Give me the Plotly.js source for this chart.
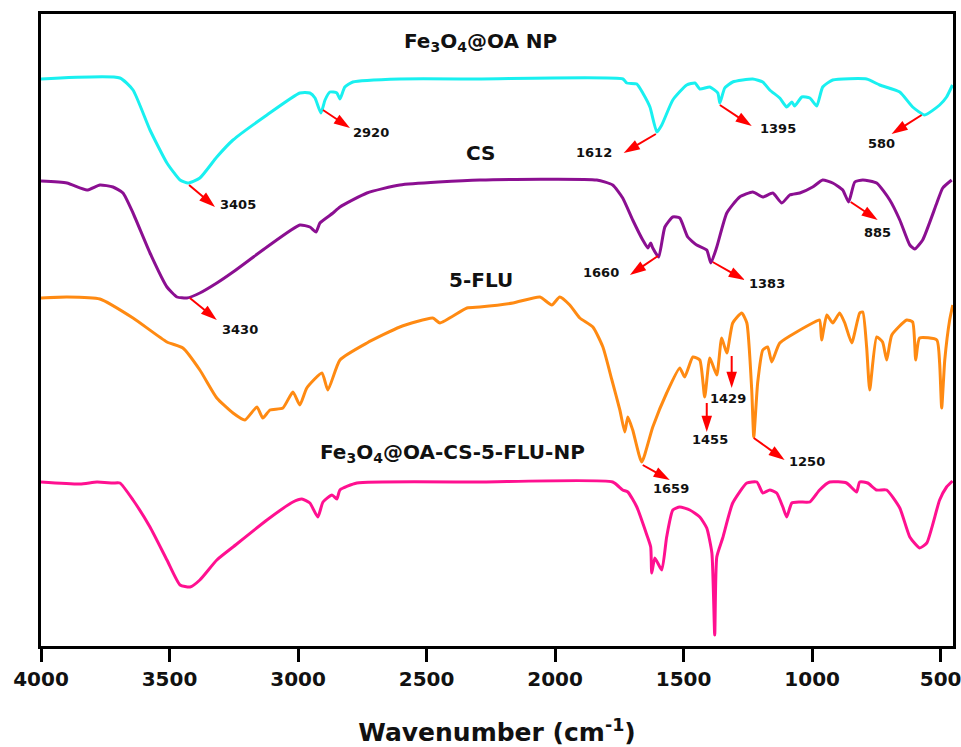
<!DOCTYPE html>
<html>
<head>
<meta charset="utf-8">
<script src="https://cdn.plot.ly/plotly-3.0.1.min.js"></script>
<style>html,body{margin:0;padding:0;background:#fff}#chart{width:961px;height:747px}</style>
</head>
<body>
<div id="chart"></div>
<script>
// ---- Data (wavenumber in cm^-1, transmittance in offset arbitrary units) ----
const oaWn = [4000,3693,3642,3576,3510,3459,3428,3382,3316,3253,3121,2993,2954,2934,2911,2895,2876,2849,2837,2818,2787,2604,2293,1736,1721,1682,1659,1631,1604,1585,1542,1488,1456,1437,1398,1367,1359,1340,1309,1231,1192,1165,1126,1099,1079,1068,1040,1009,982,959,920,788,737,659,609,562,504,477,454];
const oaT  = [567,568,556,516,483,466,463,468,489,506,531,553,553,548,533,546,554,553,547,559,564,567,567,567,563,562,553,539,514,521,546,561,563,557,559,553,543,558,564,567,564,556,548,539,544,540,549,548,540,559,566,567,561,554,539,531,541,549,561];

const csWn = [4000,3899,3821,3771,3720,3681,3642,3576,3510,3471,3432,3382,3316,3253,3121,2993,2954,2930,2915,2864,2837,2732,2604,2293,1838,1776,1737,1698,1659,1639,1628,1620,1597,1573,1542,1515,1484,1449,1410,1394,1371,1332,1282,1231,1192,1153,1118,1087,1048,998,959,920,881,858,834,803,749,698,659,620,601,570,515,492,457];
const csT  = [465,463,456,461,459,453,433,393,359,349,348,353,363,374,399,421,419,414,423,433,439,453,461,466,466,461,448,426,406,398,403,398,389,419,429,428,409,401,396,383,399,433,449,454,449,453,443,451,453,459,466,463,456,444,464,466,463,446,426,401,397,406,443,458,466];

const fluWn = [4000,3899,3771,3642,3510,3448,3382,3316,3253,3207,3160,3137,3109,3059,3020,2993,2966,2907,2884,2837,2732,2604,2476,2448,2343,2293,2164,2059,2013,1982,1943,1904,1853,1814,1779,1748,1729,1717,1698,1663,1620,1566,1515,1496,1464,1437,1418,1398,1371,1352,1332,1309,1274,1254,1235,1227,1212,1192,1173,1157,1126,998,971,963,943,920,893,873,846,815,803,788,776,749,726,710,690,632,609,597,582,515,504,496,484,465,453];
const fluT  = [348,349,347,328,304,298,276,248,233,226,239,228,236,238,254,241,258,273,256,286,303,319,328,323,338,339,343,349,341,349,341,328,319,299,266,236,214,229,216,184,219,253,278,269,289,286,249,288,271,308,293,323,333,323,256,209,263,296,299,284,303,323,326,306,331,323,333,323,303,333,334,299,256,309,304,286,311,326,324,286,308,306,283,238,286,326,341];

const npWn = [4000,3848,3782,3720,3693,3642,3576,3510,3459,3420,3382,3316,3253,3121,3020,2985,2954,2923,2903,2868,2849,2837,2771,2293,1776,1737,1717,1682,1643,1628,1624,1612,1585,1566,1542,1515,1476,1437,1410,1390,1379,1371,1348,1309,1254,1215,1192,1165,1138,1114,1099,1079,1048,1009,971,932,866,827,815,784,749,710,659,620,582,554,504,477,454];
const npT  = [164,162,164,163,163,146,119,86,61,59,66,86,99,126,144,147,143,129,144,151,147,156,163,164,164,156,154,139,111,99,73,88,76,109,136,139,136,129,118,93,11,89,108,143,163,164,153,156,153,139,129,143,144,144,156,164,163,154,164,163,156,156,138,109,98,103,146,159,165];

const seriesNames = ["Fe<sub>3</sub>O<sub>4</sub>@OA NP", "CS", "5-FLU", "Fe<sub>3</sub>O<sub>4</sub>@OA-CS-5-FLU-NP"];
const seriesColors = ["#19f0f0", "#8b0f91", "#ff8a12", "#ff1090"];
const tickVals = [4000,3500,3000,2500,2000,1500,1000,500];

// Peak labels: [label, tail wn, tail T, head wn, head T, text wn, text T]
const peakLabels = [
  ["2920", 2903,536, 2798,518, 2717,514],
  ["3405", 3424,461, 3323,439, 3234,442],
  ["1612", 1608,512, 1733,493, 1849,494],
  ["1395", 1359,541, 1235,520, 1134,518],
  ["580",  574,531,  691,512,  729,503],
  ["3430", 3421,348, 3316,326, 3226,317],
  ["1660", 1600,390, 1709,371, 1822,374],
  ["1383", 1387,384, 1262,366, 1177,363],
  ["885",  850,444,  745,426,  745,414],
  ["1455", 1410,243, 1410,214, 1398,207],
  ["1429", 1313,290, 1313,258, 1328,248],
  ["1250", 1227,208, 1107,186, 1021,185],
  ["1659", 1659,181, 1554,166, 1550,158]
];
// Series name label positions [wn, T]
const nameLabelPos = [[2289,604],[2289,493],[2289,366],[2398,193]];

const xs = [oaWn, csWn, fluWn, npWn];
const ys = [oaT, csT, fluT, npT];

const traces = xs.map((x,i)=>({
  x: x, y: ys[i], type:'scatter', mode:'lines', name: seriesNames[i],
  line:{color: seriesColors[i], width:3, shape:'spline', smoothing:0.5}, hoverinfo:'skip'
}));

// red arrows (tail on the spectrum, head towards the label)
peakLabels.forEach(p=>{
  traces.push({
    x:[p[1], p[3]], y:[p[2], p[4]], type:'scatter', mode:'lines+markers', showlegend:false, hoverinfo:'skip',
    line:{color:'#ff0000', width:2},
    marker:{symbol:['circle','arrow'], size:[0,17], angleref:'previous', color:'#ff0000', opacity:1, line:{width:0}}
  });
});

const annotations = [];
peakLabels.forEach(p=>{
  annotations.push({x:p[5], y:p[6], xref:'x', yref:'y', text:p[0], showarrow:false,
    font:{family:'DejaVu Sans', size:13, color:'#111', weight:'bold'}});
});
seriesNames.forEach((n,i)=>{
  annotations.push({x:nameLabelPos[i][0], y:nameLabelPos[i][1], xref:'x', yref:'y', text:'<b>'+n+'</b>', showarrow:false,
    font:{family:'DejaVu Sans', size:20, color:'#111'}});
});

const layout = {
  width:961, height:747,
  margin:{l:41, r:8, t:14, b:101},
  paper_bgcolor:'#ffffff', plot_bgcolor:'#ffffff',
  showlegend:false,
  xaxis:{
    range:[4000,452], tickvals:tickVals, ticktext:tickVals.map(String),
    ticks:'outside', ticklen:13, tickwidth:3, tickcolor:'#000',
    ticklabeloverflow:'allow',
    showline:true, linecolor:'#000', linewidth:3, mirror:true,
    showgrid:false, zeroline:false,
    tickfont:{family:'DejaVu Sans', size:20, color:'#111', weight:'bold'},
    title:{text:'<b>Wavenumber (cm<sup>-1</sup>)</b>', font:{family:'DejaVu Sans', size:25, color:'#111'}, standoff:34}
  },
  yaxis:{
    range:[0,632], showticklabels:false, ticks:'', showgrid:false, zeroline:false,
    showline:true, linecolor:'#000', linewidth:3, mirror:true
  },
  annotations: annotations
};

Plotly.newPlot('chart', traces, layout, {displayModeBar:false, staticPlot:true});
</script>
</body>
</html>
